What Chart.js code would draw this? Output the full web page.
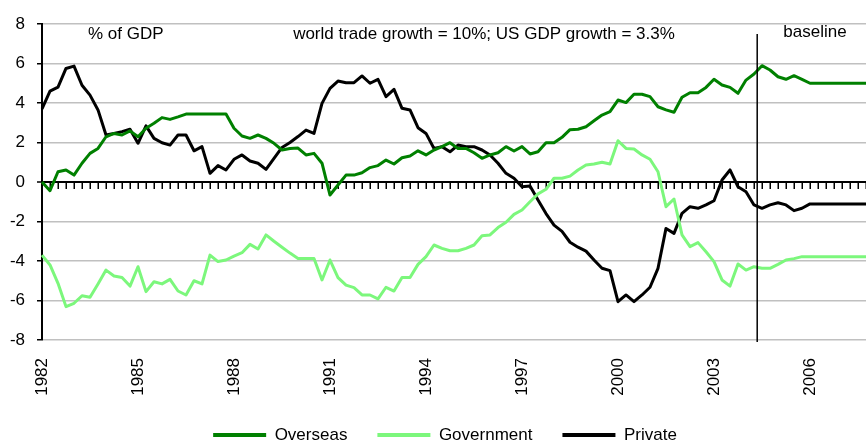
<!DOCTYPE html>
<html><head><meta charset="utf-8">
<script src="https://cdn.jsdelivr.net/npm/chart.js@4"></script>
<style>html,body{margin:0;padding:0;background:#fff}#wrap{width:866px;height:446px}</style>
</head><body><div id="wrap"><canvas id="c" width="866" height="446"></canvas></div>
<script>
// ---- data (quarterly, 1982Q1 .. 2007Q4), % of GDP ----
const firstYear = 1982;
const lastYear = 2007;
const tickYears = ['1982','1985','1988','1991','1994','1997','2000','2003','2006'];
const overseas = [
  0.0,-0.44,0.52,0.61,0.35,0.95,1.45,1.7,2.29,2.46,2.38,2.59,2.29,2.72,2.97,3.26,
  3.17,3.3,3.44,3.44,3.44,3.44,3.44,3.44,2.72,2.33,2.21,2.38,2.21,1.96,1.62,1.7,
  1.72,1.37,1.45,0.95,-0.66,-0.15,0.35,0.35,0.47,0.73,0.83,1.11,0.91,1.23,1.32,1.58,
  1.37,1.62,1.79,1.99,1.7,1.7,1.48,1.2,1.37,1.48,1.79,1.57,1.79,1.42,1.53,1.99,
  1.99,2.26,2.65,2.67,2.8,3.1,3.39,3.56,4.15,4.02,4.44,4.44,4.32,3.81,3.65,3.53,
  4.29,4.52,4.52,4.79,5.2,4.91,4.79,4.49,5.16,5.47,5.89,5.67,5.33,5.2,5.38,5.2,
  5.0,5.0,5.0,5.0,5.0,5.0,5.0,5.0
];
const government = [
  -3.7,-4.2,-5.13,-6.31,-6.14,-5.76,-5.84,-5.16,-4.46,-4.76,-4.84,-5.27,-4.29,-5.55,-5.05,-5.16,
  -4.93,-5.52,-5.72,-5.0,-5.16,-3.7,-4.03,-3.95,-3.75,-3.58,-3.16,-3.39,-2.68,-3.0,-3.3,-3.6,
  -3.87,-3.87,-3.87,-4.96,-3.95,-4.84,-5.22,-5.35,-5.72,-5.72,-5.92,-5.33,-5.52,-4.84,-4.84,-4.17,
  -3.78,-3.19,-3.36,-3.48,-3.48,-3.36,-3.19,-2.72,-2.68,-2.31,-2.04,-1.64,-1.42,-1.0,-0.6,-0.37,
  0.19,0.19,0.3,0.61,0.86,0.91,1.0,0.91,2.09,1.7,1.67,1.37,1.15,0.52,-1.25,-0.86,
  -2.68,-3.27,-3.07,-3.53,-4.03,-4.96,-5.27,-4.15,-4.46,-4.29,-4.37,-4.37,-4.17,-3.95,-3.88,-3.78,
  -3.78,-3.78,-3.78,-3.78,-3.78,-3.78,-3.78,-3.78
];
const privateSector = [
  3.7,4.6,4.8,5.75,5.87,4.9,4.4,3.65,2.38,2.46,2.55,2.67,1.96,2.84,2.21,1.99,
  1.87,2.38,2.38,1.58,1.79,0.44,0.83,0.61,1.15,1.37,1.06,0.95,0.64,1.2,1.75,2.0,
  2.3,2.63,2.46,3.98,4.74,5.11,5.03,5.03,5.37,5.0,5.2,4.32,4.69,3.73,3.65,2.75,
  2.46,1.7,1.79,1.53,1.87,1.79,1.79,1.62,1.37,0.95,0.44,0.19,-0.24,-0.2,-0.91,-1.6,
  -2.18,-2.5,-3.05,-3.3,-3.5,-3.95,-4.37,-4.49,-6.06,-5.72,-6.06,-5.72,-5.33,-4.37,-2.35,-2.6,
  -1.59,-1.25,-1.33,-1.16,-0.95,0.1,0.61,-0.24,-0.49,-1.16,-1.33,-1.16,-1.05,-1.16,-1.45,-1.33,
  -1.11,-1.11,-1.11,-1.11,-1.11,-1.11,-1.11,-1.11
];
const baselineQuarter = 89.4;   // where the baseline projection starts (quarter index)
const seriesNames = ['Overseas','Government','Private'];
const seriesColors = ['#008000','#7cf77c','#000000'];

const quarters = [];
for (let y = firstYear; y <= lastYear; y++) for (let q = 1; q <= 4; q++) quarters.push(y + 'Q' + q);

const FONT = "'Liberation Sans', Arial, sans-serif";

const decor = {
  id: 'decor',
  afterLayout(chart) {
    const l = chart.legend;
    if (!l) return;
    const pad = l.options.labels.padding;
    const dy = 435 - (l.top + pad + 17 / 2);
    const dx = 12;
    l.top += dy; l.bottom += dy; l.left += dx; l.right += dx;
  },
  beforeDatasetsDraw(chart) {
    const {ctx, scales: {x, y}} = chart;
    const y0 = y.getPixelForValue(0);
    ctx.save();
    ctx.strokeStyle = '#000';
    ctx.lineWidth = 1.5;
    ctx.beginPath();
    for (let i = 1; i < quarters.length; i++) {
      const px = Math.round(x.getPixelForValue(i)) + 0.25;
      ctx.moveTo(px, y0);
      ctx.lineTo(px, y0 + 7);
    }
    ctx.stroke();
    ctx.restore();
  },
  afterDatasetsDraw(chart) {
    const {ctx, scales: {x, y}} = chart;
    ctx.save();
    ctx.strokeStyle = '#000';
    ctx.lineWidth = 1.5;
    const bx = x.getPixelForValue(baselineQuarter);
    ctx.beginPath();
    ctx.moveTo(bx, y.getPixelForValue(7.5));
    ctx.lineTo(bx, y.getPixelForValue(-8.1));
    ctx.stroke();
    ctx.fillStyle = '#000';
    ctx.font = '17px ' + FONT;
    ctx.textBaseline = 'alphabetic';
    ctx.textAlign = 'left';
    ctx.fillText('% of GDP', 88, 39);
    ctx.textAlign = 'center';
    ctx.fillText('world trade growth = 10%; US GDP growth = 3.3%', 484, 39);
    ctx.fillText('baseline', 815, 37);
    ctx.restore();
  }
};

new Chart(document.getElementById('c'), {
  type: 'line',
  data: {
    labels: quarters,
    datasets: [overseas, government, privateSector].map((d, i) => ({
      label: seriesNames[i],
      data: d,
      borderColor: seriesColors[i],
      backgroundColor: seriesColors[i],
      borderWidth: 3,
      pointRadius: 0,
      tension: 0,
      borderJoinStyle: 'round',
      fill: false
    }))
  },
  options: {
    responsive: false,
    animation: false,
    devicePixelRatio: 1,
    layout: { padding: { top: 24, left: 0, right: 0, bottom: -11 }, autoPadding: false },
    plugins: {
      tooltip: { enabled: false },
      legend: {
        position: 'bottom',
        labels: {
          font: { family: FONT, size: 17 },
          color: '#000',
          boxWidth: 53,
          boxHeight: 4,
          padding: 30,
          generateLabels(chart) {
            const items = Chart.defaults.plugins.legend.labels.generateLabels(chart);
            items.forEach(it => { it.lineWidth = 0; });
            return items;
          }
        }
      }
    },
    scales: {
      x: {
        type: 'category',
        offset: false,
        grid: { display: false, drawTicks: false },
        border: { display: false },
        ticks: {
          autoSkip: false,
          minRotation: 90,
          maxRotation: 90,
          padding: 18,
          color: '#000',
          font: { family: FONT, size: 17 },
          callback: (v, i) => (i % 12 === 0 ? tickYears[i / 12] : '')
        },
        afterFit: s => { s.height = 60; s.paddingLeft = 0; s.paddingRight = 0; }
      },
      y: {
        min: -8,
        max: 8,
        ticks: { stepSize: 2, color: '#000', padding: 12, font: { family: FONT, size: 17 } },
        grid: {
          color: c => (c.tick && c.tick.value === 0 ? '#000' : '#c0c0c0'),
          lineWidth: c => (c.tick && c.tick.value === 0 ? 2 : 1.5),
          tickColor: '#000',
          tickLength: 5,
          tickWidth: 1.5
        },
        border: { display: true, color: '#000', width: 2 },
        afterFit: s => { s.width = 42; s.paddingTop = 0; s.paddingBottom = 0; }
      }
    }
  },
  plugins: [decor]
});
</script>
</body></html>
